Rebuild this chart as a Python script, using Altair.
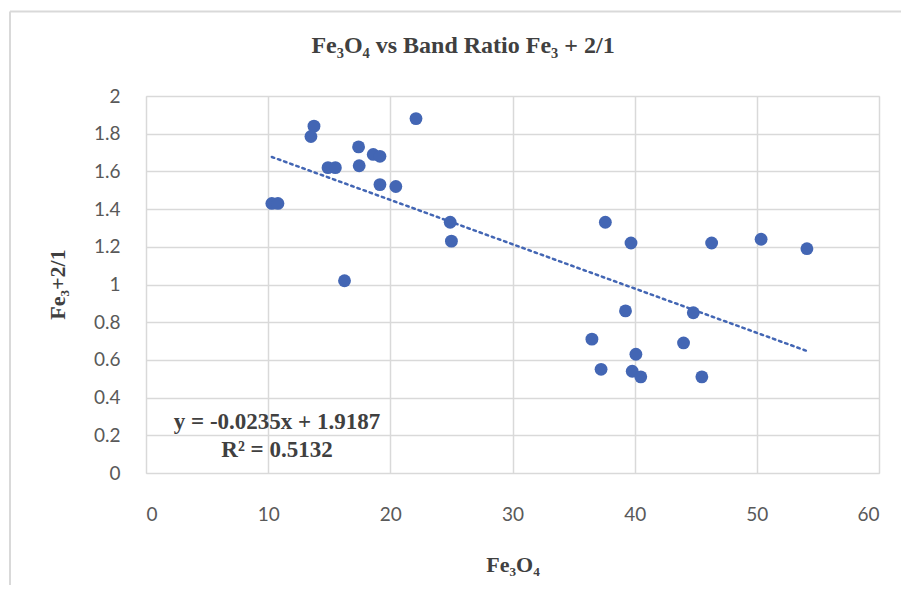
import altair as alt
import pandas as pd

# Data
fe3o4 = [22.1, 13.75, 13.5, 17.4, 18.6, 19.15, 14.9, 15.5, 17.45, 19.15, 20.45,
         10.3, 10.8, 24.9, 25.0, 16.25,
         37.6, 39.7, 46.3, 50.35, 54.1,
         39.25, 44.8, 36.5, 44.0, 40.1, 37.25, 39.8, 40.5, 45.5]
ratio = [1.88, 1.84, 1.785, 1.73, 1.69, 1.68, 1.62, 1.62, 1.63, 1.53, 1.52,
         1.43, 1.43, 1.33, 1.23, 1.02,
         1.33, 1.22, 1.22, 1.24, 1.19,
         0.86, 0.85, 0.71, 0.69, 0.63, 0.55, 0.54, 0.51, 0.51]

slope = -0.0235
intercept = 1.9187
r2 = 0.5132
trend_x = [min(fe3o4), max(fe3o4)]
trend_y = [slope * v + intercept for v in trend_x]

x_ticks = [0, 10, 20, 30, 40, 50, 60]
y_ticks = [0, 0.2, 0.4, 0.6, 0.8, 1, 1.2, 1.4, 1.6, 1.8, 2]

eq_line1 = "y = -0.0235x + 1.9187"
eq_line2 = "R\u00b2 = 0.5132"
title_text = "Fe\u2083O\u2084 vs Band Ratio Fe\u2083 + 2/1"

pts = pd.DataFrame({"x": fe3o4, "y": ratio})
trend = pd.DataFrame({"x": trend_x, "y": trend_y})

SERIF = "Liberation Serif, Times New Roman, serif"
LABEL = "Lato, Liberation Sans, sans-serif"
BLUE = "#4366b4"
GRID = "#d9d9d9"
TXT = "#404040"

xs = alt.Scale(domain=[0, 60], nice=False, zero=False)
ys = alt.Scale(domain=[0, 2], nice=False, zero=False)

x_axis = alt.Axis(values=x_ticks, grid=True, gridColor=GRID, gridWidth=1.5,
                  domain=False, ticks=False, labelFont=LABEL, labelFontSize=19,
                  labelColor="#595959", labelPadding=32,
                  title="Fe\u2083O\u2084", titleFont=SERIF, titleFontSize=22,
                  titleFontWeight="bold", titleColor=TXT,
                  titleY=91, titleBaseline="middle")
y_axis = alt.Axis(values=y_ticks, format="~g", grid=True, gridColor=GRID, gridWidth=1.5,
                  domain=False, ticks=False, labelFont=LABEL, labelFontSize=19,
                  labelColor="#595959", labelPadding=26,
                  title="Fe\u2083+2/1", titleFont=SERIF, titleFontSize=22,
                  titleFontWeight="bold", titleColor=TXT,
                  titleX=-89, titleY=188, titleAngle=-90, titleBaseline="middle")

points = alt.Chart(pts).mark_circle(size=165, color=BLUE, opacity=1).encode(
    x=alt.X("x:Q", scale=xs, axis=x_axis),
    y=alt.Y("y:Q", scale=ys, axis=y_axis),
)

line = alt.Chart(trend).mark_line(color=BLUE, strokeWidth=2.5,
                                  strokeDash=[2.5, 4], strokeCap="round").encode(
    x=alt.X("x:Q", scale=xs, axis=x_axis),
    y=alt.Y("y:Q", scale=ys, axis=y_axis),
)

base = alt.Chart(pd.DataFrame({"a": [0]}))
eq1 = base.mark_text(
    font=SERIF, fontSize=23, fontWeight="bold", color=TXT,
    align="center", baseline="middle", text=eq_line1
).encode(x=alt.value(131), y=alt.value(326))
eq2 = base.mark_text(
    font=SERIF, fontSize=23, fontWeight="bold", color=TXT,
    align="center", baseline="middle", text=eq_line2
).encode(x=alt.value(131), y=alt.value(354))

frame_top = base.mark_rule(stroke="#d9d9d9", strokeWidth=2).encode(
    x=alt.value(-136), x2=alt.value(760), y=alt.value(-84.5))
frame_left = base.mark_rule(stroke="#d9d9d9", strokeWidth=2).encode(
    x=alt.value(-136), y=alt.value(-84.5), y2=alt.value(510))

title_txt = base.mark_text(
    font=SERIF, fontSize=24, fontWeight="bold", color=TXT,
    align="center", baseline="middle", text=title_text
).encode(x=alt.value(317), y=alt.value(-50))

chart = alt.layer(frame_top, frame_left, line, points, eq1, eq2, title_txt).properties(
    width=733, height=377,
    autosize=alt.AutoSizeParams(type="none"),
    padding={"left": 138, "top": 88, "right": 22, "bottom": 112},
).configure_view(stroke=GRID, strokeWidth=1.5).configure(background="white")

chart.save("out.html", embed_options={"renderer": "svg", "actions": False})
